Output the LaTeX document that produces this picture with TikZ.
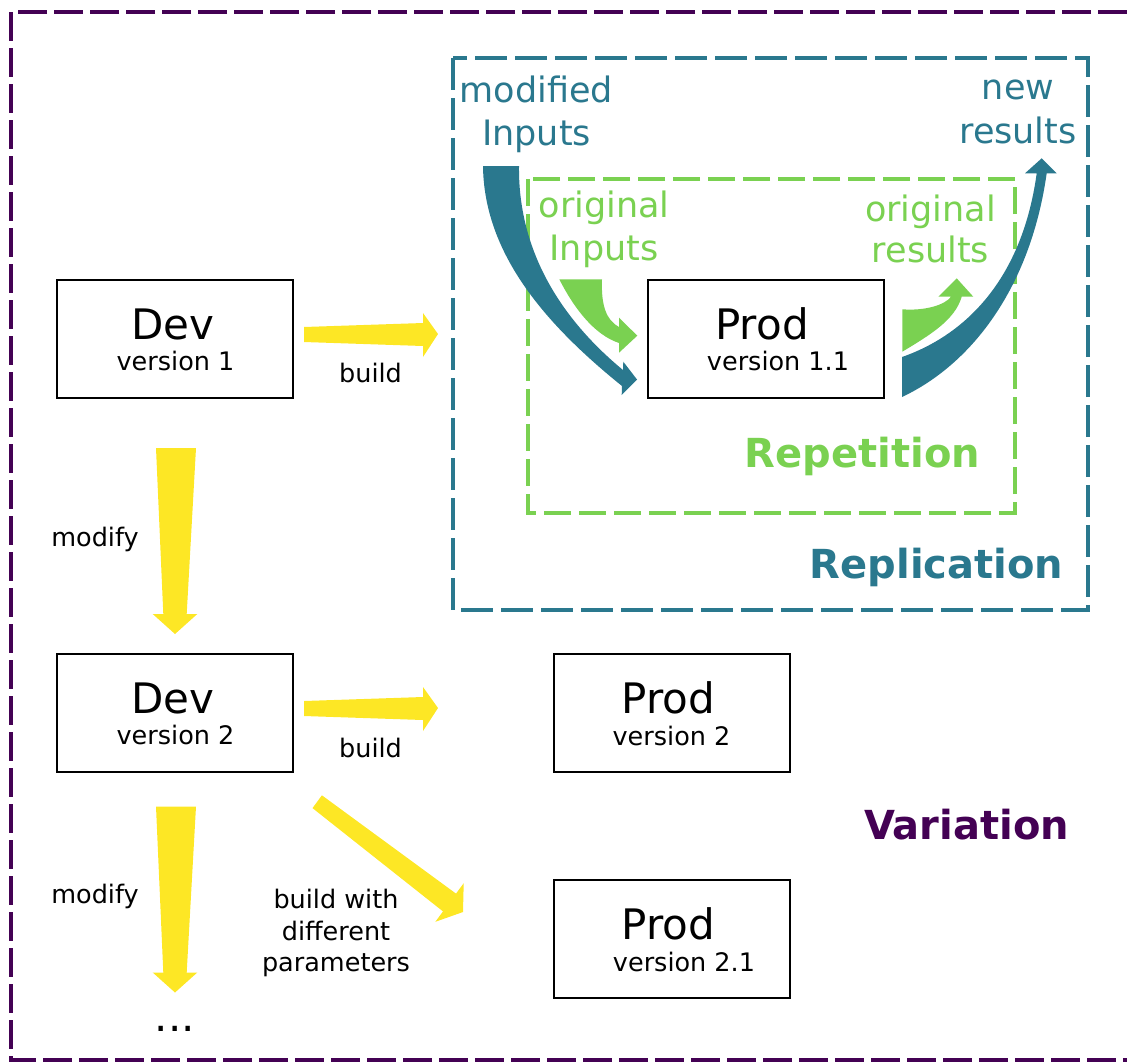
\documentclass[tikz,border=0pt]{standalone}
\usepackage{fontspec}
\setmainfont{DejaVu Sans}
\definecolor{vpurple}{HTML}{440154}
\definecolor{vteal}{HTML}{2A788E}
\definecolor{vgreen}{HTML}{7AD151}
\definecolor{vyellow}{HTML}{FDE725}
\newcommand{\hugetxt}{\fontsize{42}{50}\selectfont}
\newcommand{\midtxt}{\fontsize{35}{42}\selectfont}
\newcommand{\smalltxt}{\fontsize{25.5}{30}\selectfont}
\newcommand{\titletxt}{\fontsize{40}{48}\selectfont\bfseries}

\begin{document}
\begin{tikzpicture}[x=1pt,y=-1pt,
	stage/.style={draw,line width=2pt,minimum width=236pt,minimum height=118pt,inner sep=0pt},
	lbl/.style={anchor=base,inner sep=0pt},
	yarrow/.style={fill=vyellow},
	dashbox/.style={line width=4pt,dash pattern=on 29pt off 7pt}]
	\useasboundingbox (0,0) rectangle (1127,1061);

	% outer frame: variation
	\draw [dashbox,vpurple] (1127,12) -- (11,12) -- (11,1060) -- (1127,1060);
	\draw [dashbox,vteal,line width=4.5pt,dash pattern=on 32pt off 8pt] (453,58) rectangle (1088,610);
	\draw [dashbox,vgreen,line width=3.5pt,dash pattern=on 27pt off 8pt] (528,179) rectangle (1015,513);

	% boxes
	\node [stage] (dev1) at (175,339) {};
	\node [stage] (dev2) at (175,713) {};
	\node [stage] (prod11) at (765.5,339) {};
	\node [stage] (prod2) at (671.5,713) {};
	\node [stage] (prod21) at (671.5,939) {};

	\node [lbl] (dev1t) at (173,339) {\hugetxt Dev};
	\node [lbl] (dev1v) at (175.5,370) {\smalltxt version 1};
	\node [lbl] (dev2t) at (173,713) {\hugetxt Dev};
	\node [lbl] (dev2v) at (175.5,744) {\smalltxt version 2};
	\node [lbl] (prod11t) at (762,339) {\hugetxt Prod};
	\node [lbl] (prod11v) at (778,370) {\smalltxt version 1.1};
	\node [lbl] (prod2t) at (668.5,713) {\hugetxt Prod};
	\node [lbl] (prod2v) at (671.5,745) {\smalltxt version 2};
	\node [lbl] (prod21t) at (668.5,939) {\hugetxt Prod};
	\node [lbl] (prod21v) at (684,971) {\smalltxt version 2.1};
	\node [lbl] (dots) at (175,1031) {\hugetxt ...};

	% yellow arrows
	\foreach \dy in {0,374} {
		\begin{scope}[shift={(0,\dy)}]
		\fill [yarrow] (304,327) -- (423,323) -- (423,313) -- (438,334) -- (423,357) -- (423,346) -- (304,342) -- cycle;
		\end{scope}
	}
	\foreach \dy in {0,358.5} {
		\begin{scope}[shift={(0,\dy)}]
		\fill [yarrow] (156,448) -- (196,448) -- (186.7,614) -- (197.3,614) -- (175,634) -- (152.7,614) -- (163.3,614) -- cycle;
		\end{scope}
	}
	\fill [yarrow] (321.9,795.3) -- (456,893.6) -- (463.7,883.2) -- (463,912) -- (435.3,921.8) -- (443,911.4) -- (312.5,808.1) -- cycle;

	\node [lbl] (build1) at (370.5,382.5) {\smalltxt build};
	\node [lbl] (build2) at (370.5,757) {\smalltxt build};
	\node [lbl] (mod1) at (95,546) {\smalltxt modify};
	\node [lbl] (mod2) at (95,903.5) {\smalltxt modify};
	\node [lbl] (bw1) at (336,908.5) {\smalltxt build with};
	\node [lbl] (bw2) at (336,940) {\smalltxt different};
	\node [lbl] (bw3) at (336,971.5) {\smalltxt parameters};

	% replication
	\fill [vteal] (483,166) -- (519,166) .. controls (518,250) and (560,318) .. (623,370) -- (623.3,361.7) -- (637,379.5) -- (621.7,395) -- (622,386) .. controls (540,320) and (484,250) .. (483,166) -- cycle;
	\fill [vteal] (902,397) .. controls (970,365) and (1030,290) .. (1046.7,173.3) -- (1056.7,173.3) -- (1041.7,158.3) -- (1025,173.3) -- (1036.7,173.3) .. controls (1022,280) and (965,335) .. (902,357) -- cycle;
	\node [lbl,vteal] (modin1) at (536.5,102.5) {\midtxt modified};
	\node [lbl,vteal] (modin2) at (536.5,145.5) {\midtxt Inputs};
	\node [lbl,vteal] (newres1) at (1018,99.5) {\midtxt new};
	\node [lbl,vteal] (newres2) at (1018,143) {\midtxt results};
	\node [lbl,vteal] (repl) at (936.5,578) {\titletxt Replication};

	% repetition
	\fill [vgreen] (559.3,279.3) -- (602,279.3) .. controls (601,305) and (606,320) .. (619,327) -- (619,317.7) -- (637.3,335.7) -- (619,352.7) -- (619,343) .. controls (595,335) and (575,310) .. (559.3,279.3) -- cycle;
	\fill [vgreen] (902.3,309.3) .. controls (925,311) and (945,305) .. (951,296.7) -- (938.3,296.7) -- (956.7,278.3) -- (973.3,296.7) -- (961.7,296.7) .. controls (955,320) and (930,335) .. (902.3,351.7) -- cycle;
	\node [lbl,vgreen] (orin1) at (604,217.5) {\midtxt original};
	\node [lbl,vgreen] (orin2) at (604,260) {\midtxt Inputs};
	\node [lbl,vgreen] (orres1) at (930.5,221) {\midtxt original};
	\node [lbl,vgreen] (orres2) at (930.5,262.5) {\midtxt results};
	\node [lbl,vgreen] (rep) at (862.5,467.5) {\titletxt Repetition};

	\node [lbl,vpurple] (var) at (966.5,839) {\titletxt Variation};
\end{tikzpicture}
\end{document}
